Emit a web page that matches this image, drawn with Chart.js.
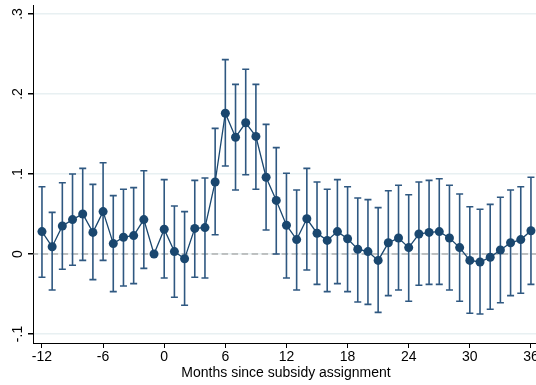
<!DOCTYPE html>
<html>
<head>
<meta charset="utf-8">
<script src="https://cdn.jsdelivr.net/npm/chart.js@4"></script>
<style>
  html, body { margin: 0; padding: 0; background: #fff; }
  #wrap { width: 536px; height: 385px; overflow: hidden; }
</style>
</head>
<body>
<div id="wrap"><canvas id="chart" width="545" height="385"></canvas></div>
<script>
const months = [-12, -11, -10, -9, -8, -7, -6, -5, -4, -3, -2, -1,
  0, 1, 2, 3, 4, 5, 6, 7, 8, 9, 10, 11, 12,
  13, 14, 15, 16, 17, 18, 19, 20, 21, 22, 23, 24,
  25, 26, 27, 28, 29, 30, 31, 32, 33, 34, 35, 36];
const estimates = [0.028, 0.009, 0.035, 0.043, 0.050, 0.027, 0.053, 0.013, 0.021, 0.023, 0.043, 0.000,
  0.031, 0.003, -0.006, 0.032, 0.033, 0.090, 0.176, 0.146, 0.164, 0.147, 0.096, 0.067, 0.036,
  0.018, 0.044, 0.026, 0.017, 0.028, 0.019, 0.006, 0.003, -0.008, 0.014, 0.020, 0.008,
  0.025, 0.027, 0.028, 0.020, 0.008, -0.008, -0.010, -0.004, 0.005, 0.014, 0.018, 0.029];
const upper = [0.084, 0.052, 0.089, 0.100, 0.107, 0.087, 0.114, 0.073, 0.081, 0.083, 0.104, null,
  0.093, 0.060, 0.053, 0.092, 0.095, 0.157, 0.243, 0.212, 0.231, 0.212, 0.162, 0.133, 0.101,
  0.080, 0.107, 0.090, 0.081, 0.093, 0.084, 0.070, 0.068, 0.058, 0.079, 0.086, 0.074,
  0.090, 0.092, 0.094, 0.086, 0.075, 0.059, 0.056, 0.062, 0.071, 0.080, 0.084, 0.096];
const lower = [-0.029, -0.045, -0.019, -0.014, -0.008, -0.032, -0.008, -0.047, -0.040, -0.037, -0.018, null,
  -0.030, -0.054, -0.064, -0.029, -0.030, 0.024, 0.110, 0.080, 0.099, 0.081, 0.030, 0.000, -0.030,
  -0.045, -0.020, -0.038, -0.047, -0.037, -0.047, -0.060, -0.063, -0.073, -0.052, -0.045, -0.059,
  -0.039, -0.038, -0.038, -0.045, -0.059, -0.074, -0.075, -0.069, -0.061, -0.052, -0.049, -0.038];
const xTicks = [-12, -6, 0, 6, 12, 18, 24, 30, 36];
const yTicks = [-0.1, 0, 0.1, 0.2, 0.3];
const yLabels = ['-.1', '0', '.1', '.2', '.3'];

const navy = '#1a476f';

// error bars (rcap) drawn under the markers
const errorBars = {
  id: 'errorBars',
  beforeDatasetDraw(chart, args) {
    if (args.index !== 0) return;
    const ctx = chart.ctx;
    const x = chart.scales.x, y = chart.scales.y;
    ctx.save();
    ctx.strokeStyle = '#2f5881';
    ctx.lineWidth = 1.6;
    months.forEach((m, i) => {
      if (upper[i] === null) return;
      const px = x.getPixelForValue(m);
      const top = y.getPixelForValue(upper[i]);
      const bot = y.getPixelForValue(lower[i]);
      ctx.beginPath();
      ctx.moveTo(px, top); ctx.lineTo(px, bot);
      ctx.moveTo(px - 3.5, top); ctx.lineTo(px + 3.5, top);
      ctx.moveTo(px - 3.5, bot); ctx.lineTo(px + 3.5, bot);
      ctx.stroke();
    });
    ctx.restore();
  }
};

// rotated y labels and x title, like Stata
const axisText = {
  id: 'axisText',
  afterDraw(chart) {
    const ctx = chart.ctx;
    const y = chart.scales.y;
    ctx.save();
    ctx.fillStyle = '#000';
    ctx.font = '14px "Liberation Sans", Arial, sans-serif';
    ctx.textAlign = 'center';
    ctx.textBaseline = 'middle';
    yTicks.forEach((v, i) => {
      ctx.save();
      ctx.translate(18, y.getPixelForValue(v));
      ctx.rotate(-Math.PI / 2);
      ctx.fillText(yLabels[i], 0, 0);
      ctx.restore();
    });
    const a = chart.chartArea;
    ctx.fillText('Months since subsidy assignment', (a.left + a.right) / 2, 373);
    ctx.restore();
  }
};

const ctx = document.getElementById('chart').getContext('2d');

const chart = new Chart(ctx, {
  type: 'line',
  data: {
    datasets: [{
      data: months.map((m, i) => ({ x: m, y: estimates[i] })),
      borderColor: navy,
      borderWidth: 1.3,
      pointRadius: 4.5,
      pointBackgroundColor: navy,
      pointBorderWidth: 0,
      tension: 0
    }, {
      // reference line at zero
      data: [{ x: -14, y: 0 }, { x: 38, y: 0 }],
      borderColor: '#8e8e8e',
      borderWidth: 1.2,
      borderDash: [6.5, 3.5],
      pointRadius: 0
    }]
  },
  options: {
    responsive: false,
    animation: false,
    layout: { padding: { top: 5, right: 6, left: 0, bottom: 0 } },
    plugins: { legend: { display: false }, tooltip: { enabled: false } },
    scales: {
      x: {
        type: 'linear',
        min: -12.88,
        max: 36.79,
        afterBuildTicks: (scale) => { scale.ticks = xTicks.map(v => ({ value: v })); },
        afterFit: (scale) => { scale.height = 42; },
        grid: { drawOnChartArea: false, tickLength: 5, tickColor: '#000' },
        border: { color: '#000', width: 1 },
        ticks: {
          autoSkip: false, maxRotation: 0, padding: 1, color: '#000',
          font: { family: '"Liberation Sans", Arial, sans-serif', size: 14 }
        }
      },
      y: {
        type: 'linear',
        min: -0.11125,
        max: 0.31125,
        afterBuildTicks: (scale) => { scale.ticks = yTicks.map(v => ({ value: v })); },
        afterFit: (scale) => { scale.width = 33; },
        grid: { color: '#e8f0f2', lineWidth: 1.5, tickLength: 5, tickColor: '#000' },
        border: { color: '#000', width: 1 },
        ticks: { display: false }
      }
    }
  },
  plugins: [errorBars, axisText]
});
</script>
</body>
</html>
